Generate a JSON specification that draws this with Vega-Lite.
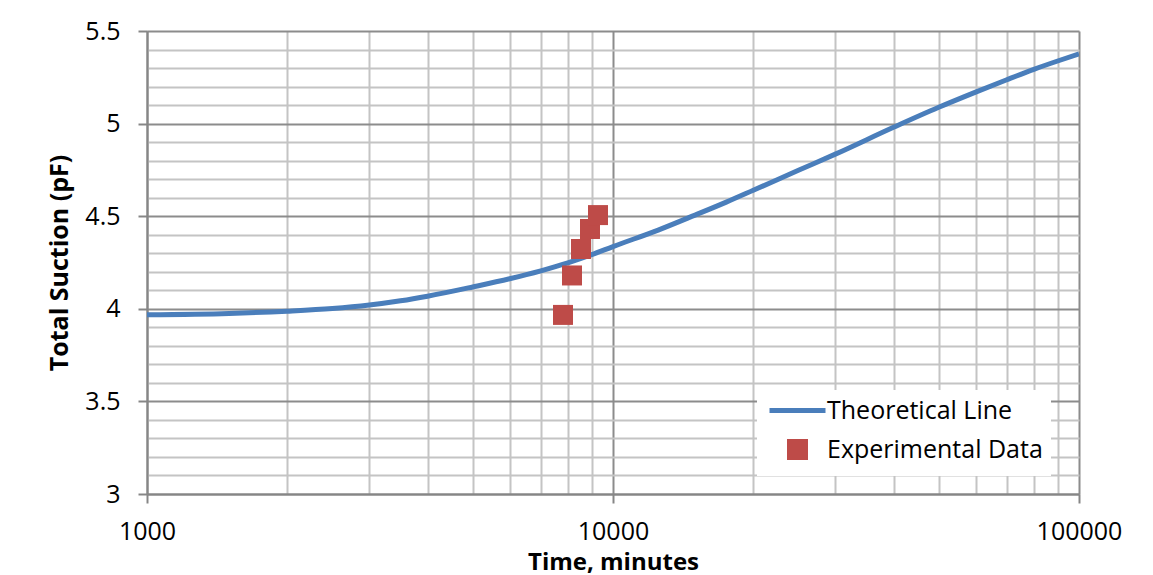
{
  "$schema": "https://vega.github.io/schema/vega-lite/v6.json",
  "width": 932,
  "height": 463,
  "autosize": {"type": "none"},
  "padding": {"left": 147, "top": 31, "right": 74, "bottom": 81},
  "background": "white",
  "config": {
    "view": {"stroke": null},
    "font": "Open Sans"
  },
  "datasets": {
    "theory": [
      {"time": 1000, "suction": 3.968, "series": "Theoretical Line"},
      {"time": 1500, "suction": 3.975, "series": "Theoretical Line"},
      {"time": 2000, "suction": 3.987, "series": "Theoretical Line"},
      {"time": 2500, "suction": 4.001, "series": "Theoretical Line"},
      {"time": 3000, "suction": 4.020, "series": "Theoretical Line"},
      {"time": 3500, "suction": 4.043, "series": "Theoretical Line"},
      {"time": 4000, "suction": 4.068, "series": "Theoretical Line"},
      {"time": 5000, "suction": 4.118, "series": "Theoretical Line"},
      {"time": 6000, "suction": 4.162, "series": "Theoretical Line"},
      {"time": 7000, "suction": 4.205, "series": "Theoretical Line"},
      {"time": 8000, "suction": 4.248, "series": "Theoretical Line"},
      {"time": 9000, "suction": 4.292, "series": "Theoretical Line"},
      {"time": 10000, "suction": 4.336, "series": "Theoretical Line"},
      {"time": 12500, "suction": 4.425, "series": "Theoretical Line"},
      {"time": 15000, "suction": 4.506, "series": "Theoretical Line"},
      {"time": 17500, "suction": 4.576, "series": "Theoretical Line"},
      {"time": 20000, "suction": 4.640, "series": "Theoretical Line"},
      {"time": 25000, "suction": 4.748, "series": "Theoretical Line"},
      {"time": 30000, "suction": 4.835, "series": "Theoretical Line"},
      {"time": 40000, "suction": 4.980, "series": "Theoretical Line"},
      {"time": 50000, "suction": 5.088, "series": "Theoretical Line"},
      {"time": 60000, "suction": 5.170, "series": "Theoretical Line"},
      {"time": 70000, "suction": 5.237, "series": "Theoretical Line"},
      {"time": 80000, "suction": 5.293, "series": "Theoretical Line"},
      {"time": 90000, "suction": 5.338, "series": "Theoretical Line"},
      {"time": 100000, "suction": 5.376, "series": "Theoretical Line"}
    ],
    "exp": [
      {"time": 7810, "suction": 3.967, "series": "Experimental Data"},
      {"time": 8166, "suction": 4.180, "series": "Experimental Data"},
      {"time": 8537, "suction": 4.323, "series": "Experimental Data"},
      {"time": 8925, "suction": 4.431, "series": "Experimental Data"},
      {"time": 9286, "suction": 4.506, "series": "Experimental Data"}
    ]
  },
  "encoding": {
    "x": {
      "field": "time",
      "type": "quantitative",
      "scale": {"type": "log", "domain": [1000, 100000], "nice": false},
      "axis": {
        "title": "Time, minutes",
        "titleFont": "Open Sans",
        "titleFontSize": 24,
        "titleFontWeight": "bold",
        "titleColor": "black",
        "titlePadding": 6,
        "values": [1000, 2000, 3000, 4000, 5000, 6000, 7000, 8000, 9000, 10000, 20000, 30000, 40000, 50000, 60000, 70000, 80000, 90000, 100000],
        "format": "d",
        "labelExpr": "abs(log(datum.value)/LN10 - round(log(datum.value)/LN10)) < 1e-6 ? datum.label : ''",
        "labelFont": "Open Sans",
        "labelFontSize": 25,
        "labelColor": "black",
        "labelPadding": 16,
        "labelFlush": false,
        "labelOverlap": false,
        "tickSize": 9,
        "tickWidth": 2,
        "tickColor": "#868686",
        "tickOpacity": {"condition": {"test": "abs(log(datum.value)/LN10 - round(log(datum.value)/LN10)) < 1e-6", "value": 1}, "value": 0},
        "domainColor": "#868686",
        "domainWidth": 2,
        "grid": true,
        "gridWidth": 2,
        "gridColor": {"condition": {"test": "abs(log(datum.value)/LN10 - round(log(datum.value)/LN10)) < 1e-6", "value": "#8c8c8c"}, "value": "#c4c4c4"}
      }
    },
    "y": {
      "field": "suction",
      "type": "quantitative",
      "scale": {"domain": [3, 5.5], "nice": false, "zero": false},
      "axis": {
        "title": "Total Suction (pF)",
        "titleFont": "Open Sans",
        "titleFontSize": 25,
        "titleFontWeight": "bold",
        "titleColor": "black",
        "titlePadding": 12,
        "values": [3, 3.1, 3.2, 3.3, 3.4, 3.5, 3.6, 3.7, 3.8, 3.9, 4, 4.1, 4.2, 4.3, 4.4, 4.5, 4.6, 4.7, 4.8, 4.9, 5, 5.1, 5.2, 5.3, 5.4, 5.5],
        "labelExpr": "abs(datum.value*2 - round(datum.value*2)) < 1e-6 ? format(datum.value, '') : ''",
        "labelFont": "Open Sans",
        "labelFontSize": 25,
        "labelColor": "black",
        "labelPadding": 18,
        "labelFlush": false,
        "labelOverlap": false,
        "tickSize": 9,
        "tickWidth": 2,
        "tickColor": "#868686",
        "tickOpacity": {"condition": {"test": "abs(datum.value*2 - round(datum.value*2)) < 1e-6", "value": 1}, "value": 0},
        "domainColor": "#868686",
        "domainWidth": 2,
        "grid": true,
        "gridWidth": 2,
        "gridColor": {"condition": {"test": "abs(datum.value*2 - round(datum.value*2)) < 1e-6", "value": "#8c8c8c"}, "value": "#c4c4c4"}
      }
    }
  },
  "layer": [
    {
      "data": {"name": "theory"},
      "mark": {"type": "line", "strokeWidth": 5, "interpolate": "monotone", "clip": true},
      "encoding": {
        "color": {
          "field": "series",
          "type": "nominal",
          "scale": {"domain": ["Theoretical Line", "Experimental Data"], "range": ["#4a7ebb", "#be4b48"]},
          "legend": {
            "title": null,
            "orient": "none",
            "legendX": 610,
            "legendY": 359,
            "fillColor": "white",
            "padding": 8,
            "labelFont": "Open Sans",
            "labelFontSize": 25,
            "labelColor": "black",
            "labelLimit": 400,
            "symbolSize": 256,
            "symbolOffset": 20,
            "labelOffset": 17,
            "rowPadding": 7,
            "encode": {
              "symbols": {
                "update": {
                  "shape": {"signal": "datum.value === 'Theoretical Line' ? 'stroke' : 'square'"},
                  "size": {"signal": "datum.value === 'Theoretical Line' ? 3136 : 256"},
                  "fill": {"signal": "datum.value === 'Experimental Data' ? '#be4b48' : 'transparent'"},
                  "stroke": {"signal": "datum.value === 'Theoretical Line' ? '#4a7ebb' : 'transparent'"},
                  "strokeWidth": {"value": 5},
                  "opacity": {"value": 1}
                }
              }
            }
          }
        }
      }
    },
    {
      "data": {"name": "exp"},
      "mark": {"type": "square", "size": 400, "filled": true, "opacity": 1},
      "encoding": {
        "color": {"field": "series", "type": "nominal"}
      }
    }
  ]
}
